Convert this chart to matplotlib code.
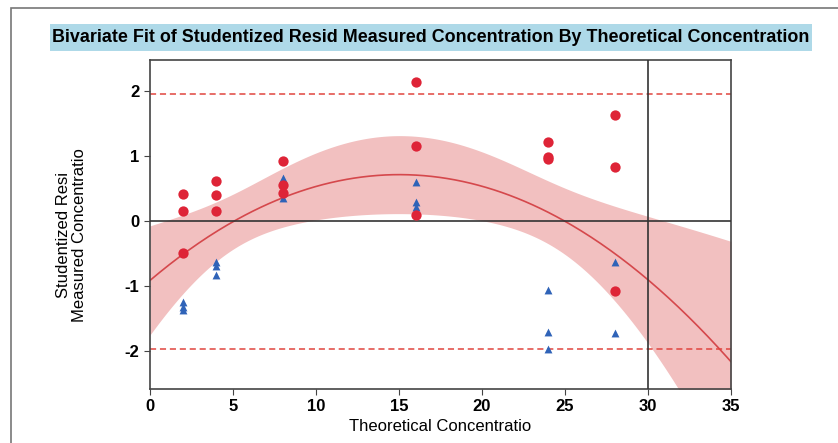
import numpy as np
import matplotlib.pyplot as plt
from matplotlib.patches import Rectangle

# studentized residuals
x_red = [2, 2, 2, 4, 4, 4, 8, 8, 8, 16, 16, 16, 24, 24, 24, 28, 28, 28]
y_red = [0.42, 0.16, -0.49, 0.62, 0.40, 0.16, 0.92, 0.56, 0.44,
         2.14, 1.15, 0.10, 1.22, 0.99, 0.95, 1.64, 0.83, -1.07]
x_blue = [2, 2, 2, 4, 4, 4, 8, 8, 8, 16, 16, 16, 24, 24, 24, 28, 28]
y_blue = [-1.24, -1.32, -1.37, -0.63, -0.69, -0.83, 0.67, 0.62, 0.35,
          0.60, 0.30, 0.22, -1.05, -1.70, -1.96, -0.62, -1.72]

xticks = [0, 5, 10, 15, 20, 25, 30, 35]
yticks = [-2, -1, 0, 1, 2]

plt.rcParams['font.family'] = ['Liberation Sans', 'DejaVu Sans']
plt.rcParams['axes.unicode_minus'] = False

# quadratic fit with 95% confidence band for the mean
x_all = np.array(x_red + x_blue, dtype=float)
y_all = np.array(y_red + y_blue)
X = np.column_stack([np.ones_like(x_all), x_all, x_all**2])
beta, res, rank, sv = np.linalg.lstsq(X, y_all, rcond=None)
n, p = X.shape
s2 = np.sum((y_all - X @ beta)**2) / (n - p)
cov = s2 * np.linalg.inv(X.T @ X)
xs = np.linspace(0, 35, 300)
Xs = np.column_stack([np.ones_like(xs), xs, xs**2])
fit = Xs @ beta
se = np.sqrt(np.einsum('ij,jk,ik->i', Xs, cov, Xs))
t = 2.01
lo, hi = fit - t*se, fit + t*se

fig = plt.figure(figsize=(8.38, 4.43), dpi=100)
# outer frame and title box
fig.patches.append(Rectangle((11/838, -0.1), 1, 1 - 8/443 + 0.1, transform=fig.transFigure,
                             fill=False, edgecolor='#777777', lw=1.2))
fig.patches.append(Rectangle((50/838, 1 - 51/443), 762/838, 27/443, transform=fig.transFigure,
                             facecolor='#aed9e8', edgecolor='none'))
ax = fig.add_axes([150/838, 1 - 389/443, 581/838, 329/443])

ax.fill_between(xs, lo, hi, color='#f2c0c0', lw=0, zorder=1)
ax.plot(xs, fit, color='#d5484c', lw=1.2, zorder=2)
ax.axhline(1.96, color='#e0453f', ls=(0, (4, 2.5)), lw=1.1, zorder=2)
ax.axhline(-1.96, color='#e0453f', ls=(0, (4, 2.5)), lw=1.1, zorder=2)
ax.axhline(0, color='#333333', lw=1.2, zorder=3)
ax.axvline(30, color='#333333', lw=1.2, zorder=3)

ax.scatter(x_blue, y_blue, marker='^', s=32, color='#2f63b8', zorder=4, lw=0)
ax.scatter(x_red, y_red, marker='o', s=55, color='#de2437', zorder=5, lw=0)

ax.set_xlim(0, 35)
ax.set_ylim(-2.58, 2.48)
ax.set_xticks(xticks)
ax.set_yticks(yticks)
ax.tick_params(labelsize=12, length=4, color='#444444')
for lab in ax.get_xticklabels() + ax.get_yticklabels():
    lab.set_fontweight('bold')
for sp in ax.spines.values():
    sp.set_color('#444444')
    sp.set_linewidth(1.2)

ax.set_xlabel('Theoretical Concentratio', fontsize=12, labelpad=3)
ax.set_ylabel('Studentized Resi\nMeasured Concentratio', fontsize=12, linespacing=1.1)
ax.yaxis.set_label_coords(-0.108, 0.468)

fig.text(431/838, 1 - 38/443, 'Bivariate Fit of Studentized Resid Measured Concentration By Theoretical Concentration',
         ha='center', va='center', fontsize=12.9, fontweight='bold')

fig.savefig('out.png', dpi=100)
